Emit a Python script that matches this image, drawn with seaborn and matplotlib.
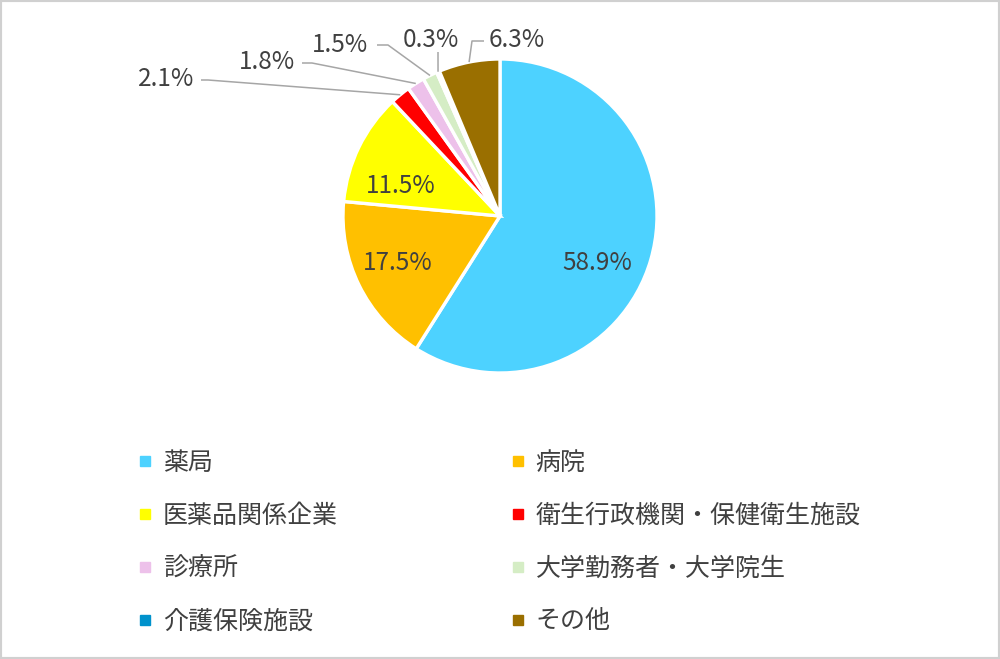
import matplotlib
matplotlib.use('Agg')
import numpy as np
import matplotlib.pyplot as plt
from matplotlib.lines import Line2D
from matplotlib.patches import Rectangle
import seaborn as sns

# ---- data ----
categories = ['薬局', '病院', '医薬品関係企業', '衛生行政機関・保健衛生施設',
              '診療所', '大学勤務者・大学院生', '介護保険施設', 'その他']
values = [58.9, 17.5, 11.5, 2.1, 1.8, 1.5, 0.3, 6.3]
colors = ['#4DD2FF', '#FFC000', '#FFFF00', '#FF0000',
          '#EDC1EA', '#D5EDC5', '#0092CC', '#9A6F00']

# ---- layout (pixel coords, origin top-left) ----
W, H = 1000, 659
pie_center_px = (500, 216)
pie_radius_px = 157
label_pos = [(597, 263), (398, 263), (401, 186), (166, 79),
             (267, 62), (340, 45), (431, 40), (517, 40)]
# leader lines: (anchor, elbow) or None for inside labels
leaders = [None, None, None,
           ((201, 80), (208, 80)),
           ((302, 63), (312, 63)),
           ((377, 45), (388, 45)),
           ((438, 52), (438, 54)),
           ((484, 41), (472, 41))]

sns.set_theme(style='white')
plt.rcParams['font.family'] = ['Noto Sans CJK JP', 'DejaVu Sans']
text_color = '#404040'

fig = plt.figure(figsize=(10, 6.59), dpi=100)
ax = fig.add_axes([0, 0, 1, 1])

cx, cy = pie_center_px[0], H - pie_center_px[1]
wedges, _ = ax.pie(values, colors=colors, startangle=90, counterclock=False,
                   center=(cx, cy), radius=pie_radius_px, frame=True,
                   wedgeprops=dict(edgecolor='white', linewidth=2.4))
ax.set_xlim(0, W)
ax.set_ylim(0, H)
ax.set_aspect('equal')
ax.axis('off')

for i, (w, v) in enumerate(zip(wedges, values)):
    lx, ly = label_pos[i]
    ax.text(lx, H - ly, f'{v:.1f}%', ha='center', va='center',
            fontsize=17.5, color=text_color)
    if leaders[i] is not None:
        (ax0, ay0), (ex, ey) = leaders[i]
        mid = np.deg2rad((w.theta1 + w.theta2) / 2)
        px = cx + pie_radius_px * np.cos(mid)
        py = cy + pie_radius_px * np.sin(mid)
        ax.plot([ax0, ex, px], [H - ay0, H - ey, py], color='#A6A6A6',
                lw=1.1, solid_capstyle='butt')

order = [0, 2, 4, 6, 1, 3, 5, 7]
handles = [Line2D([], [], marker='s', linestyle='', color=colors[i],
                  markersize=7.5) for i in order]
labels = [categories[i] for i in order]
fig.legend(handles, labels, ncol=2, loc='upper left',
           bbox_to_anchor=(135.5 / W, 1 - 450 / H), frameon=False,
           fontsize=18, handlelength=0.76, handletextpad=0.34,
           columnspacing=6.8, labelspacing=1.07, borderpad=0,
           borderaxespad=0, labelcolor=text_color)

fig.patches.append(Rectangle((0, 0), 1, 1, transform=fig.transFigure,
                             fill=False, edgecolor='#D0D0D0', linewidth=3))

fig.savefig('out.png', dpi=100, facecolor='white')
